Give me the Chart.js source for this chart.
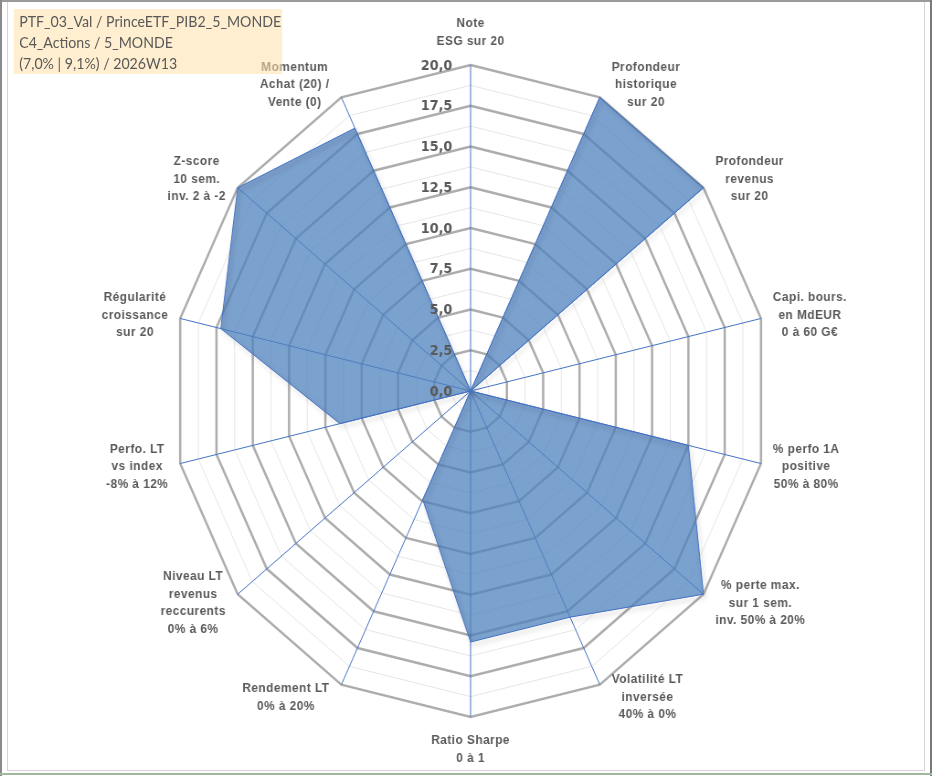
<!DOCTYPE html>
<html lang="fr">
<head>
<meta charset="utf-8">
<title>Radar PTF_03_Val</title>
<script src="https://cdn.jsdelivr.net/npm/chart.js@4.4.1/dist/chart.umd.min.js"></script>
<style>
    html, body { margin: 0; padding: 0; background: #fff; overflow: hidden; }
    #frame { position: relative; width: 932px; height: 776px; overflow: hidden; }
    /* the reference screenshot is squeezed horizontally, so the whole stage is too */
    #stage { position: absolute; left: 0; top: 0; width: 1020px; height: 776px;
             transform: scaleX(0.91373); transform-origin: 0 0; }
    #radar { position: absolute; left: 0; top: 0; }
    #title { position: absolute; left: 15px; top: 9px; width: 294px; height: 65px;
             background: rgba(255, 225, 170, 0.55); box-sizing: border-box;
             padding: 2px 0 0 6px; font: 15.5px Lato, sans-serif; line-height: 21px;
             color: #595959; white-space: nowrap; }
    .edge { position: absolute; }
</style>
</head>
<body>
<div id="frame">
    <div id="stage">
        <canvas id="radar" width="1020" height="776" style="width:1020px;height:776px"></canvas>
        <div id="title"></div>
    </div>
    <div class="edge" style="left:0;top:0;width:932px;height:2px;background:#9a9a9a"></div>
    <div class="edge" style="left:0;top:0;width:2px;height:776px;background:#8a8a8a"></div>
    <div class="edge" style="left:930px;top:0;width:2px;height:776px;background:#7a7a7a"></div>
    <div class="edge" style="left:7px;top:2px;width:1px;height:769px;background:#d4d4d4"></div>
    <div class="edge" style="left:924px;top:2px;width:1px;height:769px;background:#d4d4d4"></div>
    <div class="edge" style="left:7px;top:770px;width:918px;height:1px;background:#d4d4d4"></div>
    <div class="edge" style="left:0;top:773px;width:932px;height:2px;background:#9fb89f"></div>
</div>
<script>
// Libellés des axes (une ligne par élément)
const categories = [
    ['Note', 'ESG sur 20'],
    ['Profondeur', 'historique', 'sur 20'],
    ['Profondeur', 'revenus', 'sur 20'],
    ['Capi. bours.', 'en MdEUR', '0 à 60 G€'],
    ['% perfo 1A', 'positive', '50% à 80%'],
    ['% perte max.', 'sur 1 sem.', 'inv. 50% à 20%'],
    ['Volatilité LT', 'inversée', '40% à 0%'],
    ['Ratio Sharpe', '0 à 1'],
    ['Rendement LT', '0% à 20%'],
    ['Niveau LT', 'revenus', 'reccurents', '0% à 6%'],
    ['Perfo. LT', 'vs index', '-8% à 12%'],
    ['Régularité', 'croissance', 'sur 20'],
    ['Z-score', '10 sem.', 'inv. 2 à -2'],
    ['Momentum', 'Achat (20) /', 'Vente (0)']
];

// Notes sur 20
const scores = [0, 20, 20, 0, 15, 20, 15.4, 15.4, 7.4, 0, 9, 17.2, 20, 17.9];

// Graduations (principales étiquetées, secondaires à mi-pas)
const tickValues = [0, 2.5, 5, 7.5, 10, 12.5, 15, 17.5, 20];
const minorStep = 1.25;

const titleLines = [
    'PTF_03_Val / PrinceETF_PIB2_5_MONDE',
    'C4_Actions / 5_MONDE',
    '(7,0% | 9,1%) / 2026W13'
];

document.getElementById('title').innerHTML = titleLines.join('<br>');

const TEXT_GREY = '#595959';
const LINE_H = 17.5;

// Étiquettes façon Excel : valeurs à gauche de l'axe vertical, libellés autour du polygone
const excelLabels = {
    id: 'excelLabels',
    beforeDatasetDraw(chart) {
        const ctx = chart.ctx;
        ctx.save();
        ctx.shadowColor = 'rgba(0, 0, 0, 0.35)';
        ctx.shadowBlur = 5;
        ctx.shadowOffsetX = 2;
        ctx.shadowOffsetY = 3;
    },
    afterDatasetDraw(chart) {
        chart.ctx.restore();
    },
    afterDatasetsDraw(chart) {
        const r = chart.scales.r;
        const ctx = chart.ctx;
        ctx.save();
        ctx.fillStyle = TEXT_GREY;

        ctx.font = 'bold 14px "DejaVu Sans"';
        ctx.textAlign = 'right';
        ctx.textBaseline = 'middle';
        tickValues.forEach(v => {
            const y = r.yCenter - r.getDistanceFromCenterForValue(v);
            ctx.fillText(v.toFixed(1).replace('.', ','), r.xCenter - 20, y + 1);
        });

        ctx.font = 'bold 13px "Liberation Sans"';
        ctx.letterSpacing = '0.5px';
        ctx.textAlign = 'center';
        categories.forEach((lines, i) => {
            const p = r.getPointPosition(i, r.drawingArea);
            const a = p.angle + Math.PI / 2;
            const s = Math.sin(a), c = Math.cos(a);
            const w = Math.max(...lines.map(l => ctx.measureText(l).width));
            const h = lines.length * LINE_H;
            let cx, cy;
            if (Math.abs(s) < 0.1) {
                cx = p.x;
                cy = p.y - c * (h / 2 + 15);
            } else {
                cx = p.x + Math.sign(s) * (w / 2 + 13);
                cy = p.y - c * 14;
            }
            lines.forEach((l, k) => ctx.fillText(l, cx, cy - h / 2 + LINE_H * (k + 0.5)));
        });
        ctx.restore();
    }
};

const radarCtx = document.getElementById('radar').getContext('2d');
const radarChart = new Chart(radarCtx, {
    type: 'radar',
    data: {
        labels: categories,
        datasets: [{
            label: 'PTF_03_Val',
            data: scores,
            backgroundColor: 'rgba(79, 129, 189, 0.75)',
            borderColor: '#4472C4',
            borderWidth: 1,
            pointRadius: 0,
            fill: true
        }]
    },
    options: {
        responsive: false,
        animation: false,
        layout: {
            padding: { left: 189, right: 179, top: 65, bottom: 59 }
        },
        plugins: {
            legend: { display: false },
            tooltip: { enabled: false }
        },
        scales: {
            r: {
                min: tickValues[0],
                max: tickValues[tickValues.length - 1],
                startAngle: 0,
                ticks: { stepSize: minorStep, display: false },
                grid: {
                    circular: false,
                    color: c => (c.index % 2 === 0 ? '#ADADAD' : '#E6E6E6'),
                    lineWidth: c => (c.index % 2 === 0 ? 2.5 : 1)
                },
                angleLines: { color: '#4472C4', lineWidth: 1 },
                pointLabels: { display: false }
            }
        }
    },
    plugins: [excelLabels]
});
</script>
</body>
</html>
